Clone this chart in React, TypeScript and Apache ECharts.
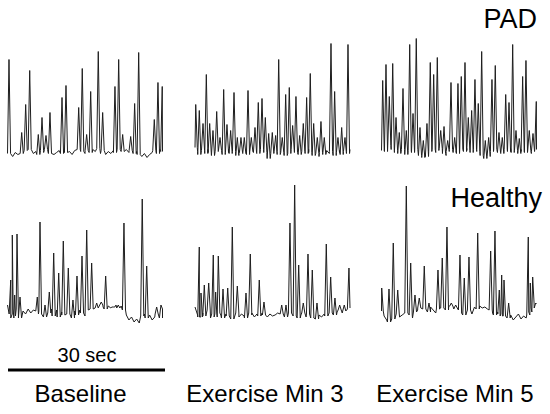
import React, { useEffect, useRef } from "react";
import * as echarts from "echarts";

// Column / row labels
const columnLabels = ["Baseline", "Exercise Min 3", "Exercise Min 5"];
const rowLabels = ["PAD", "Healthy"];
const scaleBarLabel = "30 sec";
const scaleBarSeconds = [0, 30];

// Bursts: [time (s), amplitude (a.u.)]
const padBaselineBursts = [
  [0.29, 88], [2.75, 15], [3.52, 43], [4.3, 77], [5.96, 13], [6.68, 30], [7.45, 12], [8.22, 35],
  [10.55, 50], [11.32, 62], [13.78, 40], [14.47, 79], [15.32, 13], [16.1, 56], [17.57, 96],
  [18.42, 35], [20.8, 61], [21.52, 88], [22.29, 13], [23.84, 11], [24.61, 44], [25.39, 95],
  [28.41, 28], [29.12, 65], [29.95, 61],
];
const padMin3Bursts = [
  [0.14, 43], [0.83, 37], [1.55, 24], [2.19, 73], [2.84, 24], [3.48, 17], [4.2, 36], [4.84, 10],
  [5.55, 58], [6.19, 23], [6.9, 17], [7.55, 55], [8.19, 10], [8.9, 10], [9.54, 10], [10.26, 57],
  [10.9, 10], [11.61, 20], [12.25, 45], [12.97, 49], [13.61, 30], [14.26, 14], [14.96, 15],
  [15.61, 12], [16.2, 88], [16.89, 10], [17.55, 53], [18.25, 60], [18.9, 22], [19.54, 51],
  [20.26, 12], [20.96, 24], [21.61, 50], [22.31, 74], [22.97, 24], [23.67, 10], [24.38, 26],
  [25.02, 10], [26.32, 104], [27.03, 56], [27.67, 10], [28.39, 20], [29.03, 10], [29.61, 103],
];
const padMin5Bursts = [
  [0.23, 67], [0.87, 83], [1.51, 51], [2.17, 84], [2.81, 30], [3.44, 15], [4.16, 59], [4.8, 17],
  [5.46, 103], [6.1, 34], [6.73, 109], [7.45, 20], [8.09, 7], [8.8, 24], [9.44, 85], [10.1, 73],
  [10.8, 90], [11.46, 17], [12.1, 21], [12.81, 7], [13.45, 65], [14.16, 10], [14.8, 64],
  [15.44, 71], [16.16, 85], [16.8, 30], [17.45, 37], [18.09, 68], [18.73, 44], [19.39, 96],
  [20.09, 7], [20.74, 10], [21.38, 68], [22.02, 82], [22.74, 15], [23.38, 10], [24.04, 53],
  [24.68, 45], [25.39, 103], [26.03, 17], [26.67, 9], [27.32, 71], [27.96, 87], [28.6, 17],
  [29.32, 14], [29.96, 46],
];
const healthyBaselineBursts = [
  [0.62, 32], [0.93, 77], [1.39, 17], [1.84, 78], [2.42, 15], [5.77, 15], [6.29, 90], [7.26, 7],
  [8.09, 20], [8.94, 59], [9.91, 39], [10.8, 71], [11.77, 44], [12.67, 12], [13.45, 36],
  [14.42, 56], [15.33, 82], [16.29, 49], [17.26, 9], [18.15, 10], [19.0, 36], [20.47, 5],
  [21.44, 7], [22.54, 89], [26.08, 113], [26.94, 46], [28.87, 5], [29.7, 7],
];
const healthyMin3Bursts = [
  [0.83, 65], [1.16, 19], [1.8, 27], [2.65, 29], [3.54, 57], [4.0, 20], [4.51, 56], [5.42, 23],
  [6.33, 24], [7.22, 85], [8.19, 26], [9.87, 19], [10.7, 58], [12.44, 32], [13.35, 10],
  [16.78, 7], [17.61, 7], [18.38, 89], [19.29, 127], [20.07, 47], [20.96, 9], [21.87, 58],
  [22.7, 42], [23.61, 9], [25.41, 68], [26.26, 35], [27.09, 14], [28.0, 7], [28.89, 7], [29.8, 44],
];
const healthyMin5Bursts = [
  [0.04, 24], [1.45, 23], [2.28, 69], [3.14, 22], [4.8, 126], [5.65, 49], [6.48, 17], [7.31, 14],
  [8.28, 46], [9.19, 9], [10.93, 42], [11.76, 54], [12.67, 85], [13.51, 9], [14.36, 7],
  [15.19, 57], [16.02, 34], [16.93, 55], [18.62, 79], [21.13, 61], [21.96, 81], [22.8, 22],
  [23.26, 37], [23.71, 32], [24.61, 9], [28.41, 75], [28.8, 29], [29.26, 35], [29.84, 9],
];

// Baseline noise, sampled every 0.5 s from 0 to 30 s
const padBaselineNoise = [
  2, -6, -9, -5, -7, -4, -6, -3, -5, -2, -6, -4, -7, -3, -5, -2, -6, -4, -7, -5, -3, -6, -2, -5, -4,
  -7, -3, -5, -2, -4, -6, -3, -5, -2, -4, -1, -6, -3, -7, -4, -6, -3, -5, -2, -6, -4, -2, -5, -3,
  -6, -4, -7, -9, -6, -10, -7, -5, -3, -6, -2, -4,
];
const padMin3Noise = [
  0, -4, -7, -3, -6, -2, -5, -8, -4, -6, -3, -7, -5, -2, -6, -4, -8, -3, -5, -6, -2, -7, -4, -5,
  -3, -6, -2, -5, -7, -11, -6, -4, -7, -3, -5, -8, -4, -6, -2, -5, -3, -7, -4, -6, -2, -5, -8, -6,
  -9, -5, -7, -3, -6, -4, -8, -5, -3, -7, -4, -6, -2,
];
const padMin5Noise = [
  -3, -1, -4, 2, -2, -5, -3, -6, -2, -4, -7, -3, -5, -2, -6, -8, -10, -7, -9, -4, -2, -5, -3, -1,
  -6, -8, -4, -2, -5, -3, -6, -2, -4, -1, -3, -5, -2, -4, -6, -8, -11, -9, -7, -4, -2, -5, -3, -6,
  -2, -4, -1, -5, -3, -6, -2, -4, -5, -3, -6, -4, -2,
];
const healthyBaselineNoise = [
  7, -2, -6, 3, -4, -6, 1, -2, 3, -1, 2, -3, 1, -2, 4, -5, -1, 3, -4, 2, -5, 0, -3, 3, -2, -6, 1,
  -3, 2, -1, -4, 2, 5, 3, 6, 4, 7, 5, 3, 6, 4, 5, 7, 4, 6, 2, -3, -8, -5, -10, -7, -11, -4, -2, -6,
  -3, -8, -5, -2, -6, 3,
];
const healthyMin3Noise = [
  5, -3, -5, -1, -4, 2, -6, -2, -5, -1, -3, -6, -2, -4, -7, -3, -1, -5, -2, -4, -6, -1, -3, -5, -2,
  -4, -1, -3, -5, -2, -4, -3, -1, -4, -2, -5, -3, -1, -2, -4, -6, -3, -1, -5, -2, -6, -4, -7, -3,
  -5, -2, -4, -6, -1, -3, 0, 2, -1, 1, 3, 4,
];
const healthyMin5Noise = [
  1, -4, -8, -10, -3, -7, -2, -5, -3, -4, -1, -3, -6, 0, 2, 4, 1, 3, 0, 5, 2, -1, 3, 1, 4, 2, 5, 6,
  3, 4, 2, -1, -3, 0, 2, -2, 5, 3, 6, 4, 5, 3, 2, -1, -3, 0, -2, -4, -1, -6, -3, -8, -5, -2, -7,
  -4, -6, -3, 0, 4, 8,
];

const panels = [
  { row: 0, col: 0, bursts: padBaselineBursts, noise: padBaselineNoise },
  { row: 0, col: 1, bursts: padMin3Bursts, noise: padMin3Noise },
  { row: 0, col: 2, bursts: padMin5Bursts, noise: padMin5Noise },
  { row: 1, col: 0, bursts: healthyBaselineBursts, noise: healthyBaselineNoise },
  { row: 1, col: 1, bursts: healthyMin3Bursts, noise: healthyMin3Noise },
  { row: 1, col: 2, bursts: healthyMin5Bursts, noise: healthyMin5Noise },
];

const DURATION = 30;
const HALF_WIDTH = 0.3;

function buildTrace(bursts: number[][], noise: number[]) {
  const step = DURATION / (noise.length - 1);
  const pts: number[][] = [];
  noise.forEach((v, i) => {
    const t = i * step;
    if (!bursts.some((b) => Math.abs(b[0] - t) < HALF_WIDTH)) pts.push([t, v]);
  });
  bursts.forEach(([t, a]) => {
    const i = Math.max(0, Math.min(noise.length - 1, Math.round(t / step)));
    const base = noise[i];
    pts.push([Math.max(0, t - HALF_WIDTH), base], [t, a], [Math.min(DURATION, t + HALF_WIDTH), base]);
  });
  pts.sort((p, q) => p[0] - q[0]);
  return pts;
}

const colLeft = [7.5, 195, 381.5];
const rowTop = [7.5, 172];
const FONT = '"Liberation Sans", Arial, sans-serif';

export default function App() {
  const ref = useRef<HTMLDivElement>(null);
  useEffect(() => {
    if (!ref.current) return;
    const chart = echarts.init(ref.current, null, { renderer: "svg" });
    const grid: any[] = [];
    const xAxis: any[] = [];
    const yAxis: any[] = [];
    const series: any[] = [];
    panels.forEach((p, i) => {
      grid.push({ left: colLeft[p.col], top: rowTop[p.row], width: 155, height: 160 });
      xAxis.push({ type: "value", gridIndex: i, min: 0, max: DURATION, show: false });
      yAxis.push({ type: "value", gridIndex: i, min: -20, max: 140, show: false });
      series.push({
        type: "line",
        xAxisIndex: i,
        yAxisIndex: i,
        data: buildTrace(p.bursts, p.noise),
        showSymbol: false,
        silent: true,
        lineStyle: { width: 1, color: "#1e1e1e" },
      });
    });
    const sb = panels.length;
    grid.push({ left: 8, top: 360, width: 157, height: 20 });
    xAxis.push({ type: "value", gridIndex: sb, min: 0, max: DURATION, show: false });
    yAxis.push({ type: "value", gridIndex: sb, min: -1, max: 1, show: false });
    series.push({
      type: "line",
      xAxisIndex: sb,
      yAxisIndex: sb,
      data: scaleBarSeconds.map((s) => [s, 0]),
      showSymbol: false,
      silent: true,
      lineStyle: { width: 3, color: "#000" },
    });

    const colCenters = [80.5, 265, 455];
    const graphic: any[] = [
      ...columnLabels.map((t, i) => ({
        type: "text",
        x: colCenters[i],
        y: 393.5,
        style: { text: t, fontSize: 24, fontFamily: FONT, fill: "#000", align: "center", verticalAlign: "middle" },
      })),
      {
        type: "text",
        x: 87,
        y: 355,
        style: { text: scaleBarLabel, fontSize: 20, fontFamily: FONT, fill: "#000", align: "center", verticalAlign: "middle" },
      },
      {
        type: "text",
        x: 537,
        y: 19,
        style: { text: rowLabels[0], fontSize: 27, fontFamily: FONT, fill: "#000", align: "right", verticalAlign: "middle" },
      },
      {
        type: "text",
        x: 542,
        y: 197.5,
        style: { text: rowLabels[1], fontSize: 27, fontFamily: FONT, fill: "#000", align: "right", verticalAlign: "middle" },
      },
    ];

    chart.setOption({
      animation: false,
      backgroundColor: "#fff",
      grid,
      xAxis,
      yAxis,
      series,
      graphic,
    });
    return () => chart.dispose();
  }, []);
  return <div ref={ref} style={{ position: "fixed", left: 0, top: 0, width: 550, height: 414 }} />;
}
